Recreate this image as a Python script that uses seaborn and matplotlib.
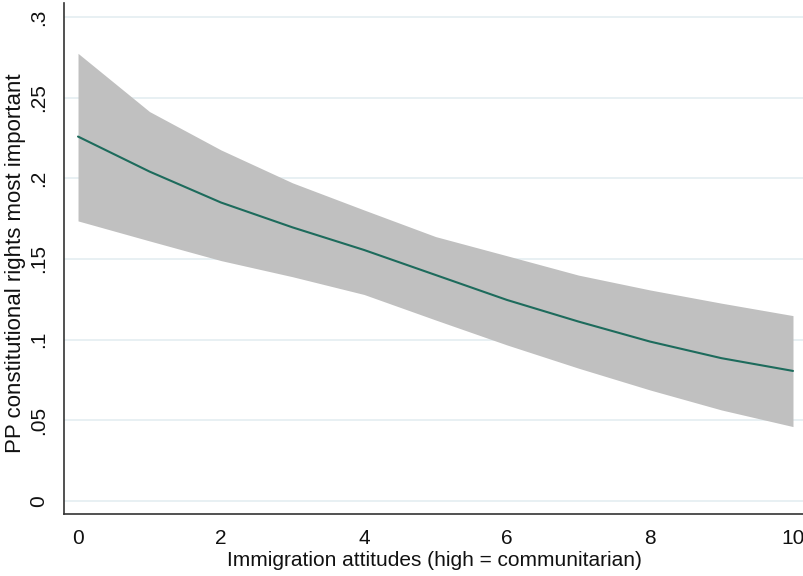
import numpy as np
import pandas as pd
import matplotlib
matplotlib.use("Agg")
import matplotlib.pyplot as plt
import seaborn as sns

# predicted probabilities (margins at integer x)
attitudes = [0, 1, 2, 3, 4, 5, 6, 7, 8, 9, 10]
pred = [0.2259, 0.2042, 0.1850, 0.1696, 0.1556, 0.1401, 0.1246, 0.1112, 0.0988, 0.0885, 0.0806]
ci_upper = [0.2775, 0.2414, 0.2176, 0.1972, 0.1804, 0.1639, 0.1520, 0.1400, 0.1308, 0.1226, 0.1149]
ci_lower = [0.1736, 0.1612, 0.1490, 0.1390, 0.1280, 0.1122, 0.0967, 0.0823, 0.0688, 0.0564, 0.0461]

y_ticks = [0, 0.05, 0.1, 0.15, 0.2, 0.25, 0.3]
y_ticklabels = ["0", ".05", ".1", ".15", ".2", ".25", ".3"]
x_ticks = [0, 2, 4, 6, 8, 10]

df = pd.DataFrame({"x": attitudes, "pred": pred, "lo": ci_lower, "hi": ci_upper})

sns.set_style("white")
plt.rcParams["font.family"] = ["Liberation Sans", "DejaVu Sans"]

fig = plt.figure(figsize=(8.04, 5.76), dpi=100)
ax = fig.add_axes([64 / 804, 62 / 576, 740 / 804, 511 / 576])

# grid lines (Stata style, light blue-grey)
for t in y_ticks:
    ax.axhline(t, color="#e4eef1", lw=1.2, zorder=0)

ax.fill_between(df["x"], df["lo"], df["hi"], color="#c0c0c0", lw=0, zorder=1)
sns.lineplot(data=df, x="x", y="pred", color="#1d6b5c", lw=1.5, ax=ax, zorder=2)

ax.set_xlim(-0.196, 10.154)
ax.set_ylim(-0.0081, 0.3087)

ax.set_xticks(x_ticks)
ax.set_xticklabels([str(v) for v in x_ticks])
ax.set_yticks(y_ticks)
ax.set_yticklabels(y_ticklabels, rotation=90, va="center")

ax.tick_params(axis="both", direction="out", length=5.5, width=1, color="#333333",
               labelsize=15, labelcolor="#111111")
ax.tick_params(axis="y", pad=6)
ax.tick_params(axis="x", pad=5)

for side in ["top", "right"]:
    ax.spines[side].set_visible(False)
for side in ["left", "bottom"]:
    ax.spines[side].set_color("#333333")
    ax.spines[side].set_linewidth(1.2)

ax.set_xlabel("Immigration attitudes (high = communitarian)", fontsize=15, color="#111111")
ax.set_ylabel("PP constitutional rights most important", fontsize=16, color="#111111")
ax.xaxis.set_label_coords(0.5, -0.072)
ax.xaxis.label.set_va("top")
ax.yaxis.set_label_coords(-0.052, 0.491)

fig.savefig("out.png", dpi=100)
